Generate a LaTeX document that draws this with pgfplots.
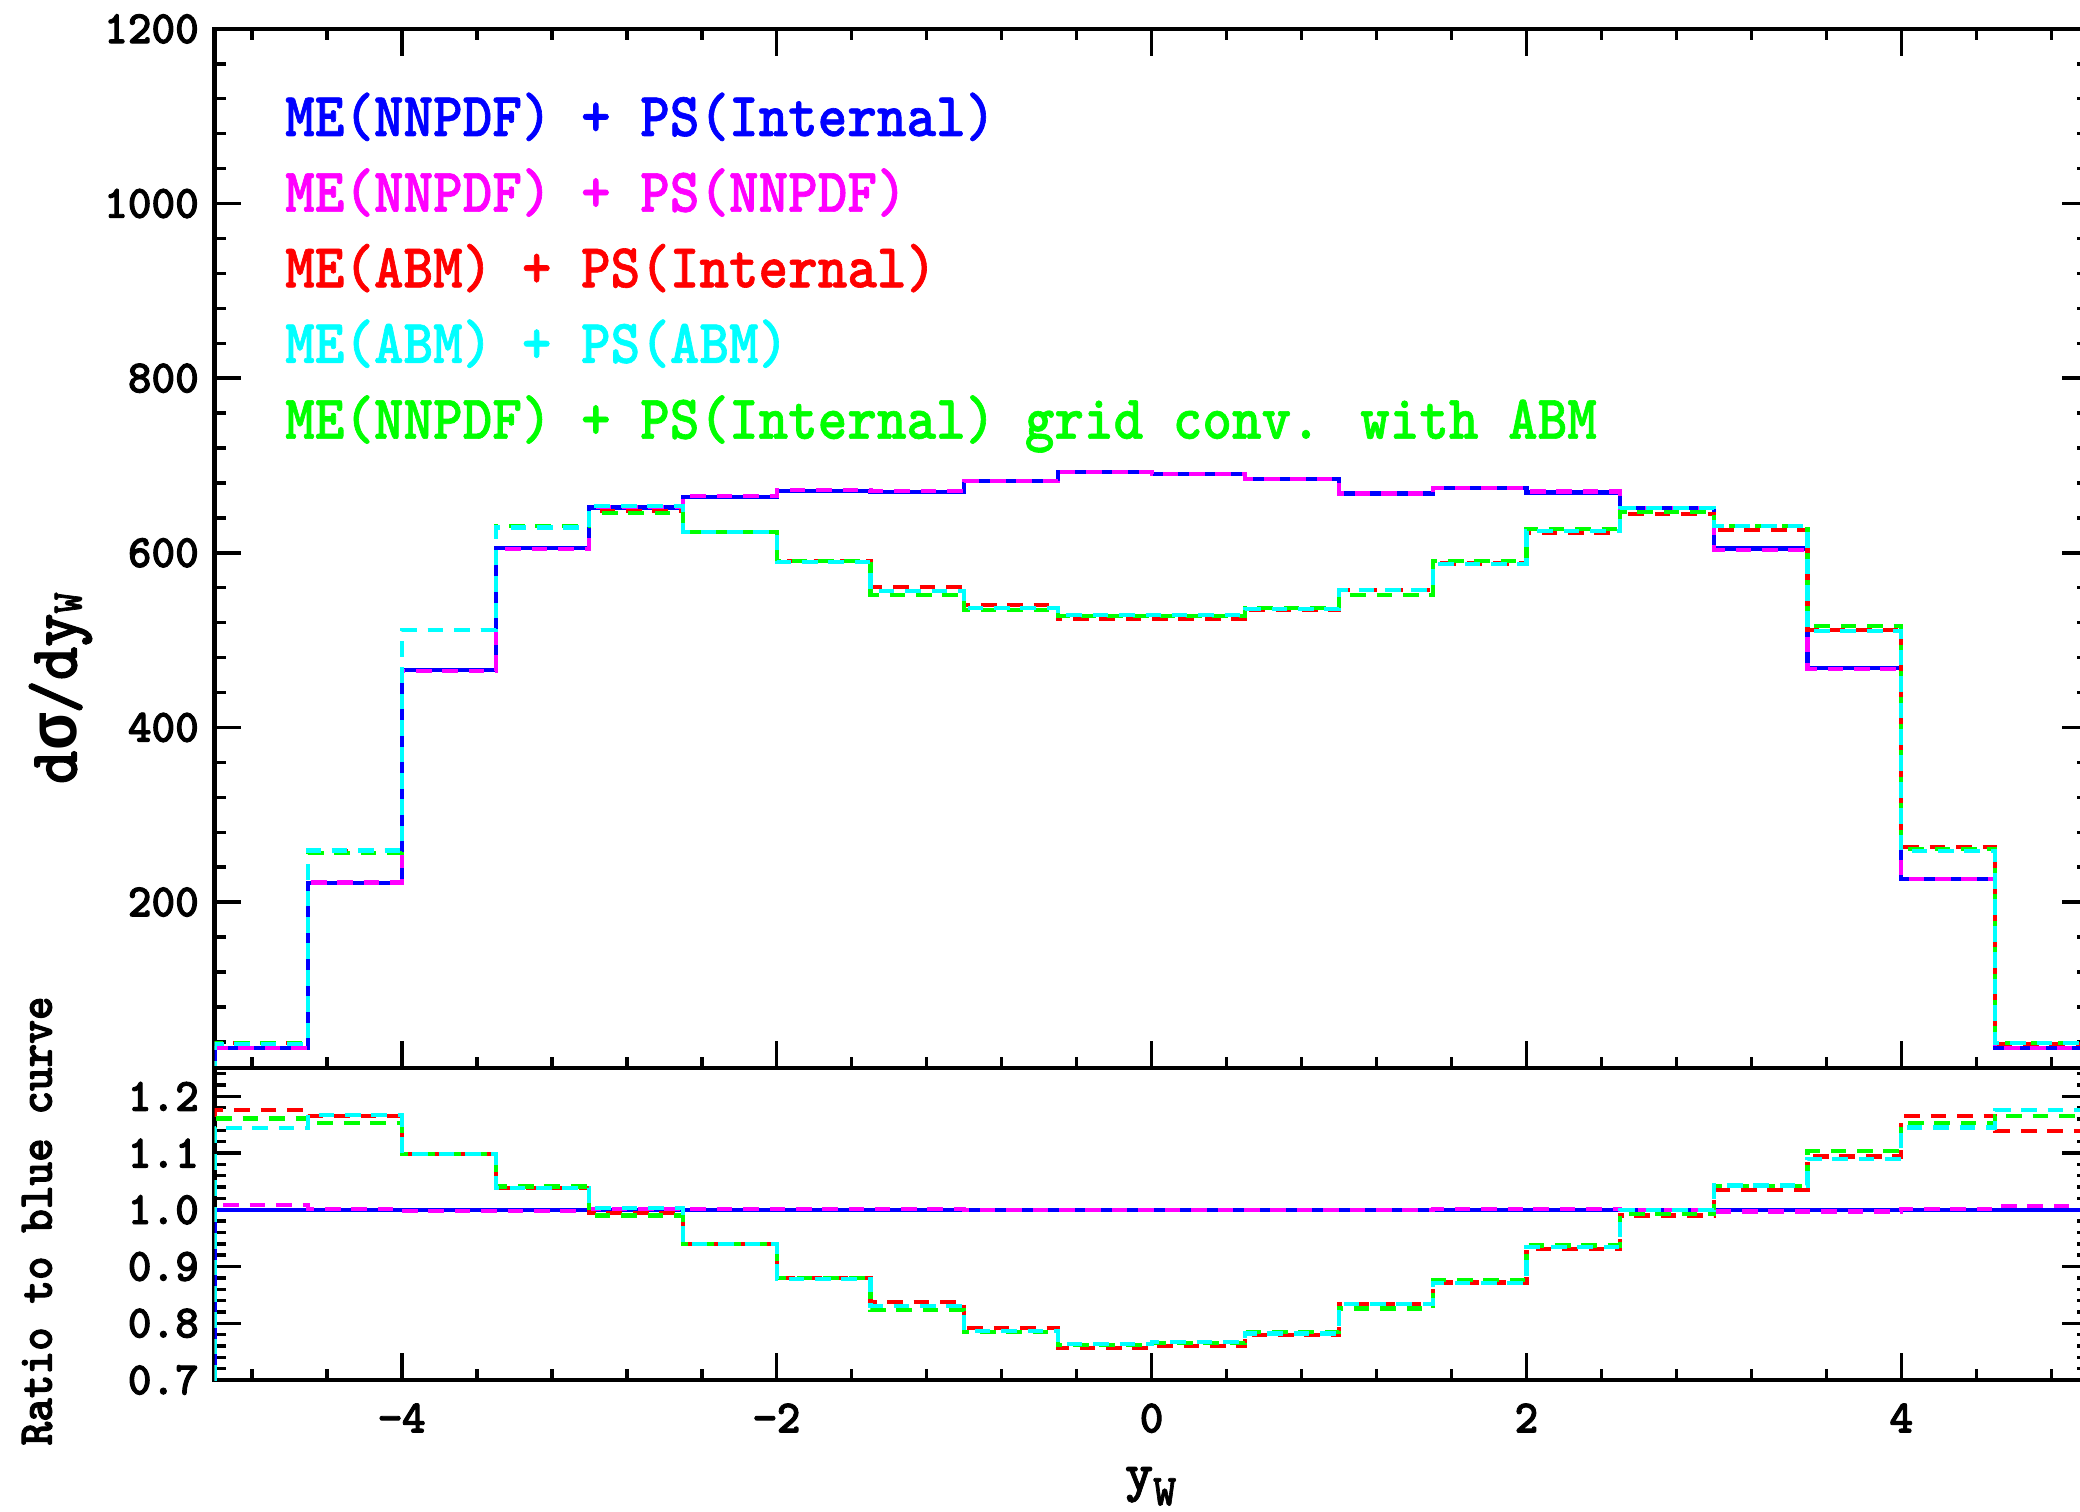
\documentclass[border=0pt]{standalone}
\usepackage{fontspec}
\usepackage{pgfplots}
\usepackage{pgfplotstable}
\pgfplotsset{compat=1.18}
\setmainfont{Liberation Mono}
% serif typewriter faces (Latin Modern Mono Light Bold), squeezed and thickened a little
\newfontfamily\legfont{lmmonolt10-bold.otf}[FakeStretch=0.90, FakeBold=1]
\newfontfamily\tickfont{lmmonolt10-bold.otf}[FakeStretch=0.97, FakeBold=2]
\newfontfamily\labfont{lmmonolt10-bold.otf}[FakeStretch=0.92, FakeBold=2]
\newfontfamily\sigfont{lmmonolt10-bold.otf}[FakeStretch=0.92, FakeBold=1.5]
\newfontfamily\xlabfont{lmmonolt10-bold.otf}[FakeBold=1.5]
\newfontfamily\greekfont{Liberation Mono}[FakeStretch=0.9]

\definecolor{cblue}{RGB}{0,0,255}
\definecolor{cmag}{RGB}{255,0,255}
\definecolor{cred}{RGB}{255,0,0}
\definecolor{ccyan}{RGB}{0,255,255}
\definecolor{cgreen}{RGB}{0,255,0}

% bin left edges, with a zero start and end so the steps rise from / fall to the axis
\pgfplotstableread{
x     B    M      R      G      C
-5    0    0      0      0      0
-5    33   33.3   38.8   38.3   37.8
-4.5  222  222.4  258.9  256.0  259.1
-4    466  465.1  512.1  512.1  512.1
-3.5  606  604.8  629.0  630.8  629.0
-3    652  652.7  648.1  645.5  654.0
-2.5  664  665.3  624.2  624.2  624.2
-2    671  672.3  590.5  590.5  589.1
-1.5  670  670.7  560.8  551.4  556.1
-1    682  682.0  540.1  534.7  536.7
-0.5  693  693.0  524.6  528.1  528.8
0     690  690.0  524.4  527.9  529.2
0.5   685  685.0  534.3  537.0  535.7
1     668  668.0  557.1  551.8  557.1
1.5   674  674.7  587.7  591.1  587.1
2     669  670.3  622.8  626.9  624.8
2.5   651  651.0  644.5  646.4  651.0
3     605  603.2  626.2  630.4  631.0
3.5   468  466.6  512.0  516.2  510.1
4     226  226.5  263.5  260.6  258.8
4.5   33   33.2   37.6   38.5   38.8
5     33   33.2   37.6   38.5   38.8
5     0    0      0      0      0
}\tabmain

\pgfplotstableread{
x     b  m      r      g      c
-5    0  0      0      0      0
-5    1  1.009  1.176  1.161  1.144
-4.5  1  1.002  1.166  1.153  1.167
-4    1  0.998  1.099  1.099  1.099
-3.5  1  0.998  1.038  1.041  1.038
-3    1  1.001  0.994  0.990  1.003
-2.5  1  1.002  0.940  0.940  0.940
-2    1  1.002  0.880  0.880  0.878
-1.5  1  1.001  0.837  0.823  0.830
-1    1  1.000  0.792  0.784  0.787
-0.5  1  1.000  0.757  0.762  0.763
0     1  1.000  0.760  0.765  0.767
0.5   1  1.000  0.780  0.784  0.782
1     1  1.000  0.834  0.826  0.834
1.5   1  1.001  0.872  0.877  0.871
2     1  1.002  0.931  0.937  0.934
2.5   1  1.000  0.990  0.993  1.000
3     1  0.997  1.035  1.042  1.043
3.5   1  0.997  1.094  1.103  1.090
4     1  1.002  1.166  1.153  1.145
4.5   1  1.006  1.139  1.166  1.176
5     1  1.006  1.139  1.166  1.176
5     0  0      0      0      0
}\tabratio

\pgfplotsset{
  panel/.style={
    scale only axis, anchor=south west,
    width=383.1pt,
    xmin=-5, xmax=5,
    axis line style={line width=0.85pt},
    tick style={black, line width=0.7pt},
    major tick length=5.5pt, minor tick length=2.3pt,
    tick align=inside,
    xtick={-4,-2,0,2,4},
    minor xtick={-4.8,-4.4,...,4.8},
    ytick pos=both, yticklabel pos=left,
    yticklabel style={font=\tickfont\fontsize{9.5pt}{10pt}\selectfont, inner sep=0pt, xshift=-3pt},
    xticklabel style={font=\tickfont\fontsize{9.5pt}{10pt}\selectfont, inner sep=0pt, yshift=-4.6pt},
  },
  hist/.style={const plot mark left, no marks, line width=0.85pt},
  dsh/.style={dash pattern=on 3.2pt off 2.2pt},
}

\begin{document}
\begin{tikzpicture}
\useasboundingbox (0pt,0pt) rectangle (425.18pt,308.87pt);

\begin{axis}[panel,
    at={(43.85pt,90.56pt)}, height=212.4pt,
    ymin=10, ymax=1200,
    xtick pos=both, xticklabels={},
    ytick={200,400,600,800,1000,1200},
    yticklabels={200,400,600,800,1000,1200},
    minor ytick={40,80,...,1160},
  ]
  \addplot[hist, cblue] table[x=x, y=B] {\tabmain};
  \addplot[hist, dsh, cmag] table[x=x, y=M] {\tabmain};
  \addplot[hist, dsh, cred] table[x=x, y=R] {\tabmain};
  \addplot[hist, dsh, cgreen] table[x=x, y=G] {\tabmain};
  \addplot[hist, dsh, ccyan] table[x=x, y=C] {\tabmain};
\end{axis}

\begin{axis}[panel,
    at={(43.85pt,26.78pt)}, height=63.78pt,
    ymin=0.7, ymax=1.25,
    xtick pos=bottom,
    xticklabels={−4,−2,0,2,4},
    ytick={0.7,0.8,0.9,1.0,1.1,1.2},
    yticklabels={0.7,0.8,0.9,1.0,1.1,1.2},
    minor ytick={0.72,0.74,...,1.245},
  ]
  \addplot[hist, cblue] table[x=x, y=b] {\tabratio};
  \addplot[hist, dsh, cmag] table[x=x, y=m] {\tabratio};
  \addplot[hist, dsh, cred] table[x=x, y=r] {\tabratio};
  \addplot[hist, dsh, cgreen] table[x=x, y=g] {\tabratio};
  \addplot[hist, dsh, ccyan] table[x=x, y=c] {\tabratio};
\end{axis}

% legend lines
\begin{scope}[every node/.style={anchor=base west, inner sep=0pt,
    font=\legfont\fontsize{12.8pt}{15pt}\selectfont}]
  \node[text=cblue]  at (58.1pt,281.07pt) {ME(NNPDF) + PS(Internal)};
  \node[text=cmag]   at (58.1pt,265.6pt)  {ME(NNPDF) + PS(NNPDF)};
  \node[text=cred]   at (58.1pt,250.15pt) {ME(ABM) + PS(Internal)};
  \node[text=ccyan]  at (58.1pt,234.7pt)  {ME(ABM) + PS(ABM)};
  \node[text=cgreen] at (58.1pt,219.2pt)  {ME(NNPDF) + PS(Internal) grid conv. with ABM};
\end{scope}

% axis titles
\node[rotate=90, anchor=base, inner sep=0pt,
  font=\sigfont\fontsize{14.1pt}{16pt}\selectfont]
  at (15.68pt,168.2pt) {d{\greekfont\bfseries σ}/dy\raisebox{-1pt}{\fontsize{9pt}{9pt}\selectfont W}};
\node[rotate=90, anchor=base, inner sep=0pt,
  font=\labfont\fontsize{10pt}{12pt}\selectfont]
  at (10.57pt,59.3pt) {Ratio to blue curve};
\node[anchor=base, inner sep=0pt,
  font=\xlabfont\fontsize{11pt}{12pt}\selectfont]
  at (235.2pt,4.2pt) {y\raisebox{-3pt}{\fontsize{9pt}{9pt}\selectfont W}};
\end{tikzpicture}
\end{document}
